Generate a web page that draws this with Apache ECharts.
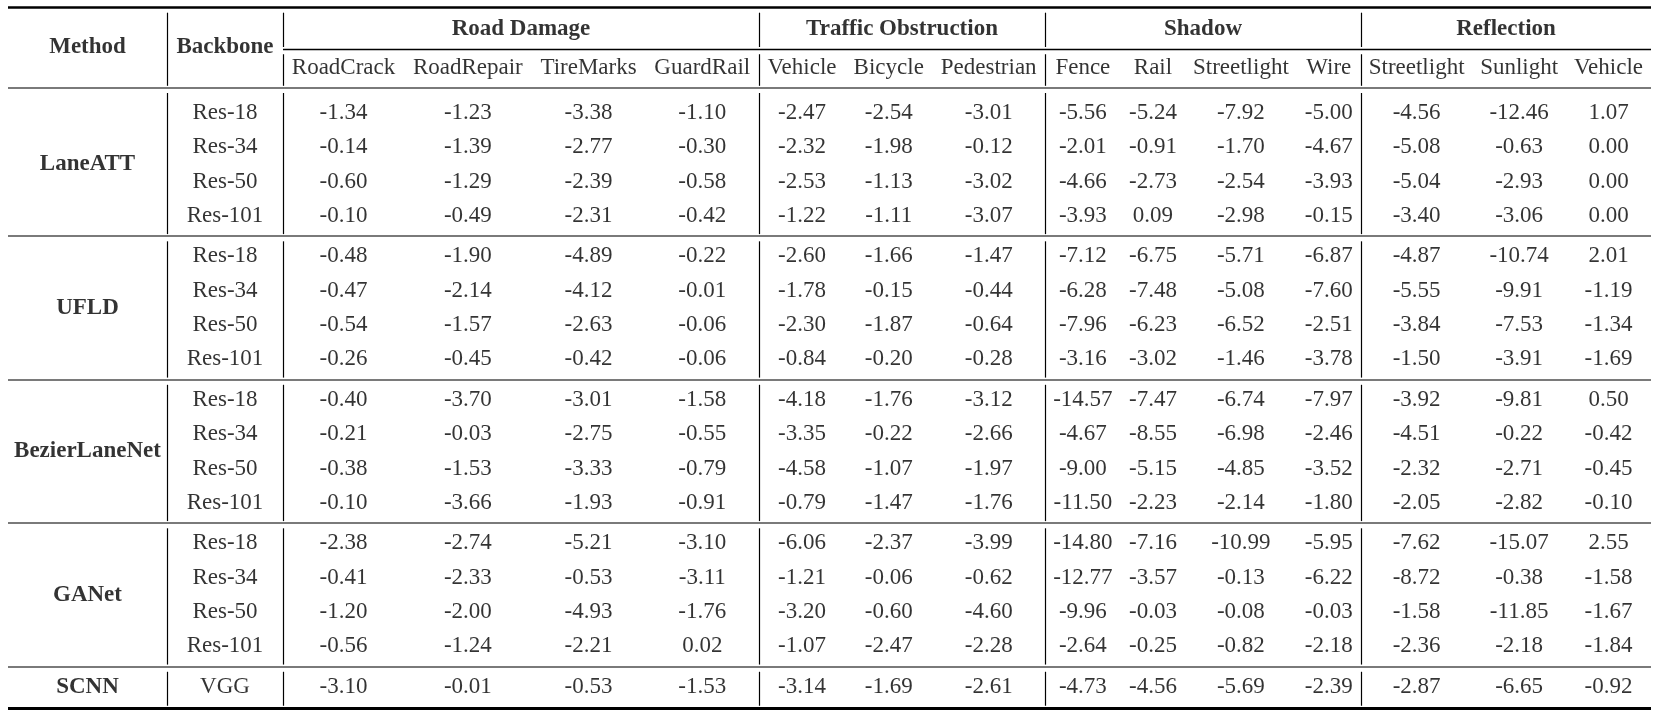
<!DOCTYPE html>
<html lang="en">
<head>
    <meta charset="utf-8">
    <title>Lane detection robustness table</title>
    <script src="https://cdn.jsdelivr.net/npm/echarts@6/dist/echarts.min.js"></script>
    <style>
        html, body { margin: 0; padding: 0; background: #fff; }
        #main { width: 1653px; height: 714px; }
    </style>
</head>
<body>
    <div id="main"></div>
    <script type="text/javascript">
        // table content
        var methods = ['LaneATT', 'UFLD', 'BezierLaneNet', 'GANet', 'SCNN'];
        var backbones = [
            ['Res-18', 'Res-34', 'Res-50', 'Res-101'],
            ['Res-18', 'Res-34', 'Res-50', 'Res-101'],
            ['Res-18', 'Res-34', 'Res-50', 'Res-101'],
            ['Res-18', 'Res-34', 'Res-50', 'Res-101'],
            ['VGG']
        ];
        var groups = ['Road Damage', 'Traffic Obstruction', 'Shadow', 'Reflection'];
        var subColumns = [
            ['RoadCrack', 'RoadRepair', 'TireMarks', 'GuardRail'],
            ['Vehicle', 'Bicycle', 'Pedestrian'],
            ['Fence', 'Rail', 'Streetlight', 'Wire'],
            ['Streetlight', 'Sunlight', 'Vehicle']
        ];

        var laneATT = [
            [-1.34, -1.23, -3.38, -1.10, -2.47, -2.54, -3.01, -5.56, -5.24, -7.92, -5.00, -4.56, -12.46, 1.07],
            [-0.14, -1.39, -2.77, -0.30, -2.32, -1.98, -0.12, -2.01, -0.91, -1.70, -4.67, -5.08, -0.63, 0.00],
            [-0.60, -1.29, -2.39, -0.58, -2.53, -1.13, -3.02, -4.66, -2.73, -2.54, -3.93, -5.04, -2.93, 0.00],
            [-0.10, -0.49, -2.31, -0.42, -1.22, -1.11, -3.07, -3.93, 0.09, -2.98, -0.15, -3.40, -3.06, 0.00]
        ];
        var ufld = [
            [-0.48, -1.90, -4.89, -0.22, -2.60, -1.66, -1.47, -7.12, -6.75, -5.71, -6.87, -4.87, -10.74, 2.01],
            [-0.47, -2.14, -4.12, -0.01, -1.78, -0.15, -0.44, -6.28, -7.48, -5.08, -7.60, -5.55, -9.91, -1.19],
            [-0.54, -1.57, -2.63, -0.06, -2.30, -1.87, -0.64, -7.96, -6.23, -6.52, -2.51, -3.84, -7.53, -1.34],
            [-0.26, -0.45, -0.42, -0.06, -0.84, -0.20, -0.28, -3.16, -3.02, -1.46, -3.78, -1.50, -3.91, -1.69]
        ];
        var bezierLaneNet = [
            [-0.40, -3.70, -3.01, -1.58, -4.18, -1.76, -3.12, -14.57, -7.47, -6.74, -7.97, -3.92, -9.81, 0.50],
            [-0.21, -0.03, -2.75, -0.55, -3.35, -0.22, -2.66, -4.67, -8.55, -6.98, -2.46, -4.51, -0.22, -0.42],
            [-0.38, -1.53, -3.33, -0.79, -4.58, -1.07, -1.97, -9.00, -5.15, -4.85, -3.52, -2.32, -2.71, -0.45],
            [-0.10, -3.66, -1.93, -0.91, -0.79, -1.47, -1.76, -11.50, -2.23, -2.14, -1.80, -2.05, -2.82, -0.10]
        ];
        var gaNet = [
            [-2.38, -2.74, -5.21, -3.10, -6.06, -2.37, -3.99, -14.80, -7.16, -10.99, -5.95, -7.62, -15.07, 2.55],
            [-0.41, -2.33, -0.53, -3.11, -1.21, -0.06, -0.62, -12.77, -3.57, -0.13, -6.22, -8.72, -0.38, -1.58],
            [-1.20, -2.00, -4.93, -1.76, -3.20, -0.60, -4.60, -9.96, -0.03, -0.08, -0.03, -1.58, -11.85, -1.67],
            [-0.56, -1.24, -2.21, 0.02, -1.07, -2.47, -2.28, -2.64, -0.25, -0.82, -2.18, -2.36, -2.18, -1.84]
        ];
        var scnn = [
            [-3.10, -0.01, -0.53, -1.53, -3.14, -1.69, -2.61, -4.73, -4.56, -5.69, -2.39, -2.87, -6.65, -0.92]
        ];
        var results = [laneATT, ufld, bezierLaneNet, gaNet, scnn];

        // layout (y in row units, 0 = first data row)
        var SERIF = '"Liberation Serif", "Times New Roman", serif';
        var FONT_SIZE = 23;
        var PAD = 9;
        var GROUP_GAP = 0.18;
        var Y_MIN = -3.29, Y_MAX = 17.51;
        var TOP_RULE = -3.07, GROUP_HEAD = -2.43, CMID = -1.86, SPAN_HEAD = -1.92,
            SUB_HEAD = -1.31, HEAD_RULE = -0.73, BOTTOM_RULE = 17.33;
        var GAP_AFTER = 0.15, GAP_BEFORE = 0.06;
        var gridEdges = [8, 167, 283, 759, 1045, 1361, 1651];

        var ctx = document.createElement('canvas').getContext('2d');
        ctx.font = FONT_SIZE + 'px ' + SERIF;
        function textWidth(s) { return ctx.measureText(s).width; }
        function fmt(v) { return v.toFixed(2); }
        function cell(x, y, text, bold) {
            return { value: [x, y], name: text, label: { fontWeight: bold ? 'bold' : 'normal' } };
        }
        function rule(width, color) {
            return { type: 'solid', width: width, color: color, cap: 'butt' };
        }

        // row positions
        var rows = [];
        var k = 0;
        results.forEach(function (block, g) {
            block.forEach(function (vals, r) {
                rows.push({ g: g, backbone: backbones[g][r], values: vals, pos: k + g * GROUP_GAP });
                k++;
            });
        });
        function groupRows(g) { return rows.filter(function (r) { return r.g === g; }); }

        var separators = [];
        for (var g = 0; g < methods.length - 1; g++) {
            var a = groupRows(g), b = groupRows(g + 1);
            separators.push((a[a.length - 1].pos + b[0].pos) / 2);
        }

        var grids = [], xAxes = [], yAxes = [], series = [];

        function rules(i, withCmid) {
            var lines = [
                { yAxis: TOP_RULE, lineStyle: rule(2.5, '#000') },
                { yAxis: HEAD_RULE, lineStyle: rule(1.8, '#7a7a7a') },
                { yAxis: BOTTOM_RULE, lineStyle: rule(3, '#000') }
            ];
            separators.forEach(function (s) {
                lines.push({ yAxis: s, lineStyle: rule(2, '#7a7a7a') });
            });
            if (withCmid) {
                lines.push({ yAxis: CMID, lineStyle: rule(1.3, '#000') });
            }
            if (i > 0) {
                var stops = withCmid ? [TOP_RULE, CMID, HEAD_RULE] : [TOP_RULE, HEAD_RULE];
                stops = stops.concat(separators, [BOTTOM_RULE]);
                for (var s = 0; s < stops.length - 1; s++) {
                    lines.push([
                        { coord: [0, stops[s] + GAP_AFTER], lineStyle: rule(1.2, '#000') },
                        { coord: [0, stops[s + 1] - GAP_BEFORE] }
                    ]);
                }
            }
            return {
                silent: true,
                symbol: ['none', 'none'],
                label: { show: false },
                lineStyle: { type: 'solid' },
                animation: false,
                data: lines
            };
        }

        function addPanel(i, xMax, data, withCmid) {
            grids.push({ left: gridEdges[i], width: gridEdges[i + 1] - gridEdges[i], top: 0, height: 714 });
            xAxes.push({ type: 'value', gridIndex: i, min: 0, max: xMax, show: false });
            yAxes.push({ type: 'value', gridIndex: i, min: Y_MIN, max: Y_MAX, inverse: true, show: false });
            series.push({
                type: 'scatter',
                xAxisIndex: i,
                yAxisIndex: i,
                symbolSize: 1,
                itemStyle: { color: 'rgba(0,0,0,0)' },
                silent: true,
                animation: false,
                label: {
                    show: true,
                    position: 'inside',
                    formatter: '{b}',
                    color: '#000',
                    fontFamily: SERIF,
                    fontSize: FONT_SIZE
                },
                data: data,
                markLine: rules(i, withCmid)
            });
        }

        // Method column
        var methodCells = [cell(0.5, SPAN_HEAD, 'Method', true)];
        methods.forEach(function (m, g) {
            var rs = groupRows(g);
            var mid = rs.reduce(function (s, r) { return s + r.pos; }, 0) / rs.length;
            methodCells.push(cell(0.5, mid, m, true));
        });
        addPanel(0, 1, methodCells, false);

        // Backbone column
        var backboneCells = [cell(0.5, SPAN_HEAD, 'Backbone', true)];
        rows.forEach(function (r) { backboneCells.push(cell(0.5, r.pos, r.backbone, false)); });
        addPanel(1, 1, backboneCells, false);

        // result groups, column widths follow the widest text as in the typeset table
        var colStart = 0;
        groups.forEach(function (name, gi) {
            var cols = subColumns[gi];
            var widths = cols.map(function (c, ci) {
                var w = textWidth(c);
                rows.forEach(function (r) { w = Math.max(w, textWidth(fmt(r.values[colStart + ci]))); });
                return w + 2 * PAD;
            });
            var total = widths.reduce(function (s, w) { return s + w; }, 0);
            var cells = [cell(total / 2, GROUP_HEAD, name, true)];
            var acc = 0;
            cols.forEach(function (c, ci) {
                var cx = acc + widths[ci] / 2;
                acc += widths[ci];
                cells.push(cell(cx, SUB_HEAD, c, false));
                rows.forEach(function (r) {
                    cells.push(cell(cx, r.pos, fmt(r.values[colStart + ci]), false));
                });
            });
            addPanel(gi + 2, total, cells, true);
            colStart += cols.length;
        });

        var myChart = echarts.init(document.getElementById('main'));
        myChart.setOption({
            animation: false,
            grid: grids,
            xAxis: xAxes,
            yAxis: yAxes,
            series: series
        });
    </script>
</body>
</html>
